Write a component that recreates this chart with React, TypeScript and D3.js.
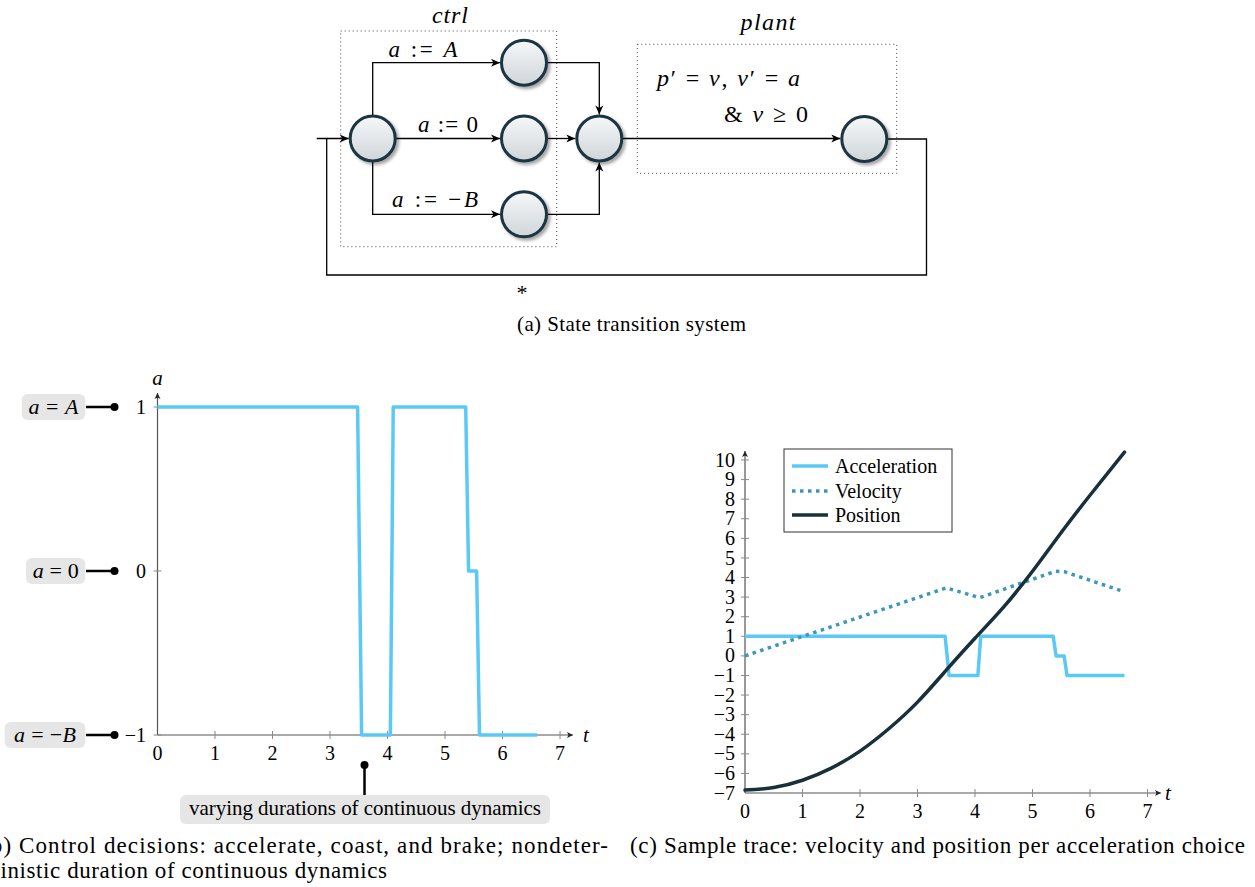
import React from 'react';
import * as d3 from 'd3';

// ---- chart data ----
const timeTicks = [0, 1, 2, 3, 4, 5, 6, 7];
const decisionTicks = [-1, 0, 1];
const decisionLabels = ['a = −B', 'a = 0', 'a = A'];
const traceTicks = [-7, -6, -5, -4, -3, -2, -1, 0, 1, 2, 3, 4, 5, 6, 7, 8, 9, 10];

const accelTime = [0, 3.48, 3.55, 4.05, 4.1, 5.36, 5.41, 5.55, 5.6, 6.6];
const accelValue = [1, 1, -1, -1, 1, 1, 0, 0, -1, -1];

const velTime = [0, 3.5, 4.08, 5.4, 5.55, 6.6];
const velValue = [0, 3.47, 2.97, 4.32, 4.3, 3.27];

const posTime = [0, 0.5, 1, 1.5, 2, 2.5, 3, 3.5, 4, 4.5, 5, 5.5, 6, 6.6];
const posValue = [-6.85, -6.72, -6.35, -5.73, -4.86, -3.72, -2.36, -0.73, 0.9, 2.5, 4.32, 6.3, 8.2, 10.4];

const legendNames = ['Acceleration', 'Velocity', 'Position'];

const FONT = "'Liberation Serif', 'Times New Roman', serif";
const C_ACC = '#5bc9f5';
const C_VEL = '#3d97bd';
const C_POS = '#17303a';
const AXIS = '#555';
const TICK = '#8a8a8a';

// letters italic, everything else upright (poor man's math mode)
function math(s: string) {
  return s
    .split(/([A-Za-z]+)/)
    .filter(p => p.length)
    .map((p, i) =>
      /^[A-Za-z]+$/.test(p)
        ? <tspan key={i} fontStyle="italic">{p}</tspan>
        : <tspan key={i}>{p}</tspan>
    );
}

type Pt = [number, number];
const zip = (a: number[], b: number[]): Pt[] => a.map((v, i) => [v, b[i]]);

function Node({ x, y }: { x: number, y: number }) {
  return (
    <circle cx={x} cy={y} r={22.5} fill="url(#nodeGrad)" stroke="#1b3440" strokeWidth={3}
      filter="url(#nodeShadow)" />
  );
}

function Diagram() {
  // layout of the transition system
  const n = {
    start: [372.7, 138.5], up: [524, 62.7], mid: [524, 138.5], low: [524, 214.3],
    join: [599.3, 138.5], end: [864.3, 139],
  };
  const r = 22.5 + 1.5;
  const line = { stroke: '#000', strokeWidth: 1.3, fill: 'none' };
  const pre = { whiteSpace: 'pre' as const };
  return (
    <g fontFamily={FONT}>
      <rect x={340.7} y={31} width={216} height={215.7} fill="none" stroke="#444" strokeWidth={1} strokeDasharray="1 3" />
      <rect x={637.3} y={44.3} width={259.4} height={129} fill="none" stroke="#444" strokeWidth={1} strokeDasharray="1 3" />
      <text x={450} y={23} fontSize={24} textAnchor="middle" fontStyle="italic" textLength={36}>ctrl</text>
      <text x={768} y={30} fontSize={24} textAnchor="middle" fontStyle="italic" textLength={55}>plant</text>

      <path d={`M316.7,${n.start[1]} H${n.start[0] - r}`} {...line} markerEnd="url(#arrow)" />
      <path d={`M${n.end[0] + 22.5},${n.end[1]} H926.5 V275 H326.7 V${n.start[1]}`} {...line} />
      <path d={`M${n.start[0]},${n.start[1] - 22} V${n.up[1]} H${n.up[0] - r}`} {...line} markerEnd="url(#arrow)" />
      <path d={`M${n.start[0] + 22.5},${n.start[1]} H${n.mid[0] - r}`} {...line} markerEnd="url(#arrow)" />
      <path d={`M${n.start[0]},${n.start[1] + 22} V${n.low[1]} H${n.low[0] - r}`} {...line} markerEnd="url(#arrow)" />
      <path d={`M${n.up[0] + 22.5},${n.up[1]} H${n.join[0]} V${n.join[1] - r}`} {...line} markerEnd="url(#arrow)" />
      <path d={`M${n.mid[0] + 22.5},${n.mid[1]} H${n.join[0] - r}`} {...line} markerEnd="url(#arrow)" />
      <path d={`M${n.low[0] + 22.5},${n.low[1]} H${n.join[0]} V${n.join[1] + r}`} {...line} markerEnd="url(#arrow)" />
      <path d={`M${n.join[0] + 22.5},${n.join[1]} H${n.end[0] - r}`} {...line} markerEnd="url(#arrow)" />

      {Object.values(n).map((p, i) => <Node key={i} x={p[0]} y={p[1]} />)}

      <text x={388.5} y={57} fontSize={23} textLength={69} style={pre}>{math('a := A')}</text>
      <text x={418} y={132} fontSize={23} textLength={60} style={pre}>{math('a := 0')}</text>
      <text x={392} y={207} fontSize={23} textLength={86} style={pre}>{math('a := −B')}</text>
      <text x={657} y={86} fontSize={24} textLength={143} style={pre}>{math('p′ = v, v′ = a')}</text>
      <text x={724} y={122} fontSize={24} textLength={84} style={pre}>{math('& v ≥ 0')}</text>
      <text x={522} y={300} fontSize={22} textAnchor="middle">*</text>

      <text x={517} y={331} fontSize={21} textLength={229}>(a) State transition system</text>
    </g>
  );
}

function DecisionChart() {
  const x = d3.scaleLinear().domain([0, 7]).range([157.5, 560]);
  const y = d3.scaleLinear().domain([-1, 1]).range([735, 407]);
  const line = d3.line<Pt>().x(d => x(d[0])).y(d => y(d[1]));
  const x0 = x(0), yBase = y(-1);
  // annotation boxes: [left, width, text width]
  const boxes = [[4.7, 80.6, 62], [26, 59.3, 46], [21.7, 63.6, 50]];
  return (
    <g fontFamily={FONT}>
      {/* axes */}
      <line x1={x0} x2={573} y1={yBase} y2={yBase} stroke={AXIS} strokeWidth={1.2} markerEnd="url(#axArrow)" />
      <line x1={x0} x2={x0} y1={yBase} y2={393} stroke={AXIS} strokeWidth={1.2} markerEnd="url(#axArrow)" />
      <text x={583} y={742} fontSize={21} fontStyle="italic">t</text>
      <text x={x0} y={385} fontSize={21} fontStyle="italic" textAnchor="middle">a</text>
      {timeTicks.map(t => (
        <g key={t}>
          {t > 0 && <line x1={x(t)} x2={x(t)} y1={yBase - 4} y2={yBase + 4} stroke={TICK} strokeWidth={1} />}
          <text x={x(t)} y={760} fontSize={20} textAnchor="middle">{t}</text>
        </g>
      ))}
      {decisionTicks.map((v, i) => {
        const [bx, bw, tw] = boxes[i];
        return (
          <g key={v}>
            <line x1={x0 - 4} x2={x0 + 4} y1={y(v)} y2={y(v)} stroke={TICK} strokeWidth={1} />
            <text x={146} y={y(v)} dy="0.33em" fontSize={20} textAnchor="end">{v < 0 ? `−${-v}` : v}</text>
            <rect x={bx} y={y(v) - 13} width={bw} height={26} rx={6} fill="#e6e6e6" />
            <text x={bx + (bw - tw) / 2} y={y(v)} dy="0.33em" fontSize={22} textLength={tw}
              style={{ whiteSpace: 'pre' }}>{math(decisionLabels[i])}</text>
            <line x1={86} x2={114.5} y1={y(v)} y2={y(v)} stroke="#000" strokeWidth={2.5} />
            <circle cx={114.5} cy={y(v)} r={4} fill="#000" />
          </g>
        );
      })}

      <path d={line(zip(accelTime, accelValue))!} fill="none" stroke={C_ACC} strokeWidth={3.5} strokeLinejoin="round" />

      {/* annotation */}
      <line x1={364.5} x2={364.5} y1={765} y2={795} stroke="#000" strokeWidth={2.5} />
      <circle cx={364.5} cy={765} r={4} fill="#000" />
      <rect x={180} y={795} width={370} height={29} rx={6} fill="#e6e6e6" />
      <text x={365} y={815} fontSize={21} textAnchor="middle" textLength={352}>varying durations of continuous dynamics</text>

      <text x={-18} y={853} fontSize={23} textLength={626}>(b) Control decisions: accelerate, coast, and brake; nondeter-</text>
      <text x={-18} y={878} fontSize={23} textLength={405}>ministic duration of continuous dynamics</text>
    </g>
  );
}

function TraceChart() {
  const x = d3.scaleLinear().domain([0, 7]).range([745, 1147.5]);
  const y = d3.scaleLinear().domain([-7, 10]).range([793, 460]);
  const straight = d3.line<Pt>().x(d => x(d[0])).y(d => y(d[1]));
  const smooth = d3.line<Pt>().x(d => x(d[0])).y(d => y(d[1])).curve(d3.curveNatural);
  const x0 = x(0), yBase = y(-7);
  const legendRows = [466, 491, 515];
  return (
    <g fontFamily={FONT}>
      <line x1={x0} x2={1161} y1={yBase} y2={yBase} stroke={AXIS} strokeWidth={1.2} markerEnd="url(#axArrow)" />
      <line x1={x0} x2={x0} y1={yBase} y2={451} stroke={AXIS} strokeWidth={1.2} markerEnd="url(#axArrow)" />
      <text x={1165} y={800} fontSize={21} fontStyle="italic">t</text>
      {timeTicks.map(t => (
        <g key={t}>
          {t > 0 && <line x1={x(t)} x2={x(t)} y1={yBase - 4} y2={yBase + 4} stroke={TICK} strokeWidth={1} />}
          <text x={x(t)} y={818} fontSize={20} textAnchor="middle">{t}</text>
        </g>
      ))}
      {traceTicks.map(v => (
        <g key={v}>
          {v > -7 && <line x1={x0 - 4} x2={x0 + 4} y1={y(v)} y2={y(v)} stroke={TICK} strokeWidth={1} />}
          <text x={735} y={y(v)} dy="0.33em" fontSize={20} textAnchor="end">{v < 0 ? `−${-v}` : v}</text>
        </g>
      ))}

      <path d={straight(zip(accelTime, accelValue))!} fill="none" stroke={C_ACC} strokeWidth={3.5} strokeLinejoin="round" />
      <path d={straight(zip(velTime, velValue))!} fill="none" stroke={C_VEL} strokeWidth={3.5} strokeDasharray="3.5 4.5" />
      <path d={smooth(zip(posTime, posValue))!} fill="none" stroke={C_POS} strokeWidth={3.5} strokeLinecap="round" />

      <rect x={784} y={449} width={168} height={83} fill="#fff" stroke="#333" strokeWidth={1} />
      {legendNames.map((name, i) => (
        <g key={name}>
          <line x1={792} x2={828} y1={legendRows[i]} y2={legendRows[i]}
            stroke={[C_ACC, C_VEL, C_POS][i]} strokeWidth={3.5}
            strokeDasharray={i === 1 ? '3.5 4.5' : undefined} />
          <text x={835} y={legendRows[i]} dy="0.33em" fontSize={20}>{name}</text>
        </g>
      ))}

      <text x={630} y={853} fontSize={23} textLength={615}>(c) Sample trace: velocity and position per acceleration choice</text>
    </g>
  );
}

export default function App() {
  return (
    <svg width={1255} height={887} style={{ position: 'absolute', left: 0, top: 0, background: '#fff' }}>
      <defs>
        <linearGradient id="nodeGrad" x1="0" y1="0" x2="0" y2="1">
          <stop offset="0" stopColor="#f6f8f9" />
          <stop offset="1" stopColor="#cfd5d9" />
        </linearGradient>
        <filter id="nodeShadow" x="-30%" y="-30%" width="170%" height="170%">
          <feDropShadow dx={2.5} dy={2.5} stdDeviation={1.5} floodColor="#000" floodOpacity={0.35} />
        </filter>
        <marker id="arrow" viewBox="-1 -5 11 10" refX={9} refY={0} markerWidth={11} markerHeight={10}
          markerUnits="userSpaceOnUse" orient="auto">
          <path d="M0,-4 L9,0 L0,4 L2.5,0 Z" fill="#000" />
        </marker>
        <marker id="axArrow" viewBox="-1 -4 9 8" refX={6} refY={0} markerWidth={9} markerHeight={8}
          markerUnits="userSpaceOnUse" orient="auto">
          <path d="M0,-3 L6,0 L0,3 L1.5,0 Z" fill="#222" />
        </marker>
      </defs>
      <Diagram />
      <DecisionChart />
      <TraceChart />
    </svg>
  );
}
